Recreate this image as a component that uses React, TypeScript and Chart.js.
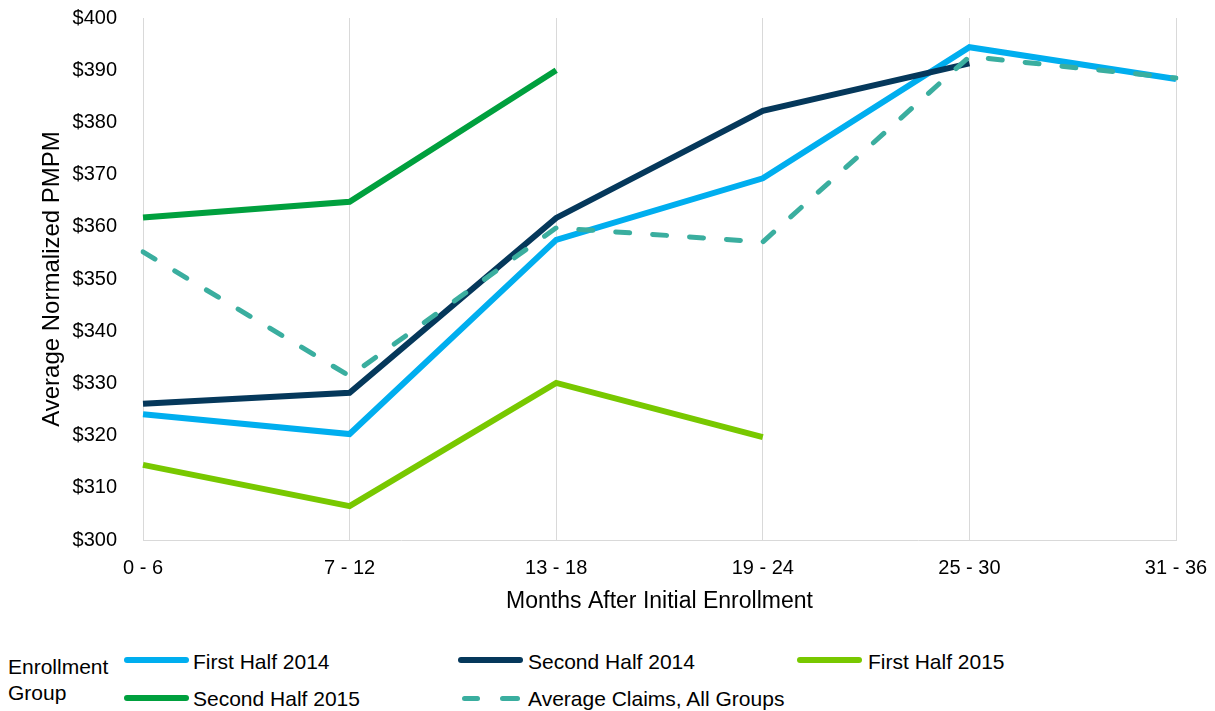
import React, { useEffect, useRef } from "react";
import { Chart, registerables } from "chart.js";

Chart.register(...registerables);

const categories = ["0 - 6", "7 - 12", "13 - 18", "19 - 24", "25 - 30", "31 - 36"];
const firstHalf2014 = [324.1, 320.3, 357.5, 369.3, 394.4, 388.3];
const secondHalf2014 = [326.1, 328.2, 361.7, 382.2, 391.3, null];
const firstHalf2015 = [314.4, 306.5, 330.1, 319.7, null, null];
const secondHalf2015 = [361.8, 364.8, 390.0, null, null, null];
const averageClaims = [355.2, 331.4, 359.8, 357.1, 392.6, 388.5];

const seriesNames = [
  "First Half 2014",
  "Second Half 2014",
  "First Half 2015",
  "Second Half 2015",
  "Average Claims, All Groups",
];
const seriesColors = ["#00AEEF", "#05385B", "#78C800", "#00A03E", "#3AAE9F"];

const yMin = 300;
const yMax = 400;
const yStep = 10;

const xTitle = "Months After Initial Enrollment";
const yTitle = "Average Normalized PMPM";
const legendTitle = ["Enrollment", "Group"];

const FONT = '"Liberation Sans", Arial, sans-serif';

export default function App() {
  const canvasRef = useRef<HTMLCanvasElement | null>(null);

  useEffect(() => {
    const canvas = canvasRef.current;
    if (!canvas) return;
    const values = [firstHalf2014, secondHalf2014, firstHalf2015, secondHalf2015, averageClaims];
    const datasets = values.map((data, i) => {
      const dashed = i === 4;
      return {
        label: seriesNames[i],
        data,
        borderColor: seriesColors[i],
        backgroundColor: seriesColors[i],
        borderWidth: dashed ? 5 : 6,
        borderDash: dashed ? [14, 23] : [],
        borderCapStyle: dashed ? "round" : "butt",
        borderJoinStyle: "miter",
        pointRadius: 0,
        pointHoverRadius: 0,
        tension: 0,
        spanGaps: false,
        fill: false,
        order: 5 - i,
      };
    });

    const chart = new Chart(canvas, {
      type: "line",
      data: { labels: categories, datasets: datasets as any },
      options: {
        animation: false,
        responsive: false,
        devicePixelRatio: 1,
        layout: { padding: { top: 18, right: 39, left: 0, bottom: 0 } },
        plugins: {
          legend: { display: false },
          tooltip: { enabled: false },
        },
        scales: {
          x: {
            type: "category",
            offset: false,
            grid: {
              display: true,
              color: "#D9D9D9",
              lineWidth: 1,
              drawTicks: false,
            },
            border: { display: true, color: "#D9D9D9", width: 1 },
            ticks: {
              color: "#000",
              font: { family: FONT, size: 20 },
              padding: 16,
              maxRotation: 0,
              autoSkip: false,
            },
            title: {
              display: true,
              text: xTitle,
              color: "#000",
              font: { family: FONT, size: 23 },
              padding: { top: 0, bottom: 10 },
            },
            afterFit: (scale: any) => {
              scale.height = 85;
              scale.paddingLeft = 0;
              scale.paddingRight = 0;
            },
          },
          y: {
            min: yMin,
            max: yMax,
            grid: { display: false, drawTicks: false },
            border: { display: false },
            ticks: {
              stepSize: yStep,
              color: "#000",
              font: { family: FONT, size: 20 },
              padding: 26,
              callback: (v: any) => "$" + v,
            },
            title: {
              display: true,
              text: yTitle,
              color: "#000",
              font: { family: FONT, size: 24 },
              padding: { top: 38, bottom: 0 },
            },
            afterFit: (scale: any) => {
              scale.width = 143;
              scale.paddingTop = 0;
              scale.paddingBottom = 0;
            },
          },
        },
      } as any,
    });
    return () => chart.destroy();
  }, []);

  const textStyle: React.CSSProperties = {
    position: "absolute",
    fontFamily: FONT,
    fontSize: 21,
    lineHeight: "24px",
    color: "#000",
    whiteSpace: "nowrap",
  };

  const legendItems = [
    { i: 0, lineX: 124, textX: 193, top: 649.5, lineY: 657 },
    { i: 1, lineX: 458, textX: 528, top: 649.5, lineY: 657 },
    { i: 2, lineX: 797, textX: 868, top: 649.5, lineY: 657 },
    { i: 3, lineX: 124, textX: 193, top: 687, lineY: 695 },
    { i: 4, lineX: 458, textX: 528, top: 687, lineY: 695 },
  ];

  return (
    <div style={{ position: "absolute", left: 0, top: 0, width: 1215, height: 711, background: "#fff" }}>
      <canvas
        ref={canvasRef}
        width={1215}
        height={625}
        style={{ position: "absolute", left: 0, top: 0, width: 1215, height: 625 }}
      />
      <div style={{ ...textStyle, left: 8, top: 655 }}>{legendTitle[0]}</div>
      <div style={{ ...textStyle, left: 8, top: 681 }}>{legendTitle[1]}</div>
      {legendItems.map((it) => (
        <React.Fragment key={it.i}>
          {it.i === 4 ? (
            <>
              <div
                style={{
                  position: "absolute",
                  left: it.lineX + 4,
                  top: it.lineY + 0.5,
                  width: 18,
                  height: 5,
                  borderRadius: 2.5,
                  background: seriesColors[it.i],
                }}
              />
              <div
                style={{
                  position: "absolute",
                  left: it.lineX + 42,
                  top: it.lineY + 0.5,
                  width: 20,
                  height: 5,
                  borderRadius: 2.5,
                  background: seriesColors[it.i],
                }}
              />
            </>
          ) : (
            <div
              style={{
                position: "absolute",
                left: it.lineX,
                top: it.lineY,
                width: 65,
                height: 6,
                borderRadius: 3,
                background: seriesColors[it.i],
              }}
            />
          )}
          <div style={{ ...textStyle, left: it.textX, top: it.top }}>{seriesNames[it.i]}</div>
        </React.Fragment>
      ))}
    </div>
  );
}
